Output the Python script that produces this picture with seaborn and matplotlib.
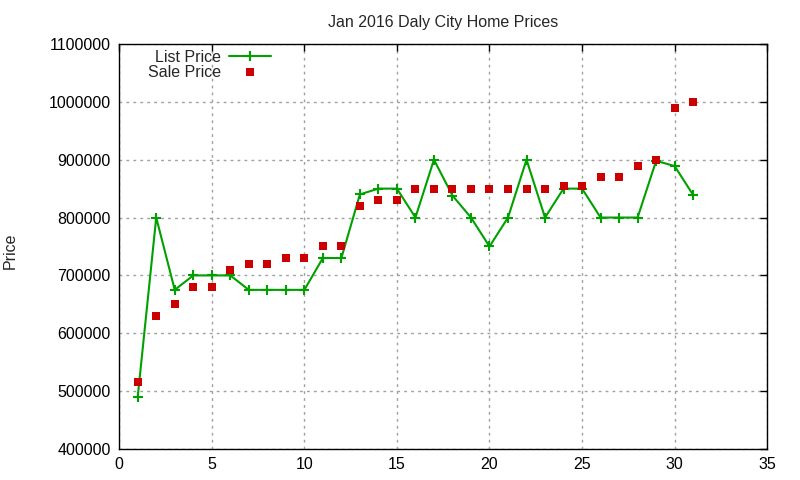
import numpy as np
import pandas as pd
import matplotlib
matplotlib.use("Agg")
import matplotlib.pyplot as plt
import seaborn as sns

days = list(range(1, 32))
list_price = [490000, 800000, 675000, 700000, 700000, 700000, 675000, 675000, 675000, 675000,
              730000, 730000, 840000, 850000, 850000, 800000, 900000, 838000, 800000, 750000,
              800000, 900000, 800000, 850000, 850000, 800000, 800000, 800000, 898000, 889000,
              839000]
sale_price = [515000, 630000, 650000, 680000, 680000, 710000, 720000, 720000, 730000, 730000,
              750000, 750000, 820000, 830000, 830000, 850000, 850000, 850000, 850000, 850000,
              850000, 850000, 850000, 855000, 855000, 870000, 870000, 889000, 900000, 990000,
              1000000]

df = pd.DataFrame({"Day": days, "List Price": list_price, "Sale Price": sale_price})

sns.set_style("white")
plt.rcParams['font.family'] = ['Liberation Sans', 'DejaVu Sans']

fig = plt.figure(figsize=(8, 4.8), dpi=100)
ax = fig.add_axes([0.149, 0.0646, 0.81, 0.8438])

sns.lineplot(data=df, x="Day", y="List Price", ax=ax, color="#00a000", linewidth=1.5,
             marker="+", markersize=7.5, markeredgewidth=1.5, markeredgecolor="#00a000",
             label="List Price")
sns.scatterplot(data=df, x="Day", y="Sale Price", ax=ax, color="#cc0000", marker="s",
                s=34, linewidth=0, label="Sale Price", zorder=3)

ax.set_xlim(0, 35)
ax.set_ylim(400000, 1100000)
ax.set_xticks(range(0, 36, 5))
ax.set_yticks(range(400000, 1100001, 100000))
ax.ticklabel_format(axis="y", style="plain", useOffset=False)
ax.grid(True, linestyle=(0, (2, 3)), color="#a0a0a0", linewidth=1)
ax.tick_params(direction="in", top=True, right=True, length=5, width=1,
               labelsize=11.5, colors="black", pad=6)
for sp in ax.spines.values():
    sp.set_color("black")
    sp.set_linewidth(1)

ax.set_xlabel("")
ax.set_ylabel("Price", fontsize=11.5)
ax.yaxis.set_label_coords(-0.157, 0.49)
ax.set_title("Jan 2016 Daly City Home Prices", fontsize=11.5, pad=12)

ax.legend(loc="upper left", bbox_to_anchor=(0.03, 1.01), frameon=False, markerfirst=False,
          fontsize=11.5, handlelength=2.6, labelspacing=0.0, borderaxespad=0.2,
          handletextpad=0.5)

fig.savefig("out.png", dpi=100)
